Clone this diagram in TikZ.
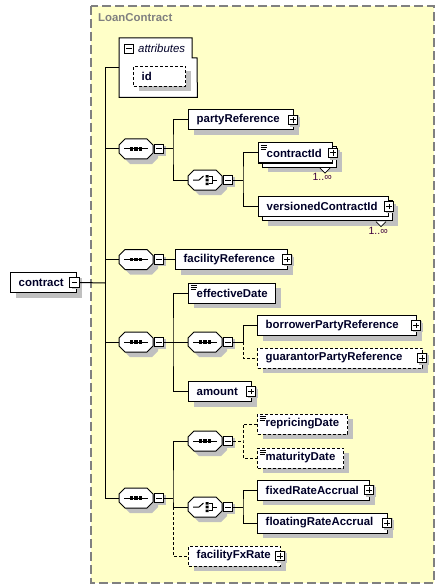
\documentclass[tikz,border=0pt]{standalone}
\usepackage{fontspec}
\setmainfont{Liberation Sans}
\usetikzlibrary{shadows}
\definecolor{grp}{RGB}{255,255,200}
\definecolor{grpline}{RGB}{128,128,128}
\definecolor{shd}{RGB}{192,192,192}
\definecolor{txt}{RGB}{0,0,40}
\definecolor{multc}{RGB}{64,0,64}
\tikzset{
 lbl/.style={font=\fontsize{11.4}{13}\selectfont\bfseries, text=txt, inner sep=0pt},
 elemplain/.style={draw=black, fill=white, line width=1pt, minimum height=20pt, inner sep=0pt},
 elembox/.style={elemplain, drop shadow={shadow xshift=5pt, shadow yshift=-5pt, fill=shd, opacity=1}},
 optbox/.style={elembox, dash pattern=on 3pt off 2pt},
 pmplain/.style={draw=black, fill=white, line width=1pt, minimum size=9.5pt, inner sep=0pt},
 pmbox/.style={pmplain, drop shadow={shadow xshift=2pt, shadow yshift=-2pt, fill=shd, opacity=1}},
 minussign/.style={path picture={\draw[line width=1pt] ([xshift=2pt]path picture bounding box.west) -- ([xshift=-2pt]path picture bounding box.east);}},
 plussign/.style={path picture={\draw[line width=1pt] ([xshift=2pt]path picture bounding box.west) -- ([xshift=-2pt]path picture bounding box.east) ([yshift=-2pt]path picture bounding box.north) -- ([yshift=2pt]path picture bounding box.south);}},
 octanchor/.style={inner sep=0pt, minimum width=34pt, minimum height=20pt},
 conn/.style={line width=1pt},
 dconn/.style={line width=1pt, dash pattern=on 3pt off 2pt},
 multlbl/.style={font=\fontsize{10.5}{12}\selectfont, text=multc, inner sep=0pt},
}
\newcommand\xelem[6]{%
 \node[#1, minimum width={#5-#3}, anchor=west] (#2) at (#3,#4) {};
 \node[lbl, anchor=west] at ([xshift=8.5pt]#2.west) {#6};}
\newcommand\melem[6]{%
 \node[elembox, minimum width={#5-#3}, anchor=west] (#2b) at (#3+4,#4+4) {};
 \draw[line width=0.8pt, fill=white] ([xshift=-17pt,yshift=-0.6pt]#2b.south east) -- ++(5pt,-5pt) -- ++(5pt,5pt);
 \node[elemplain, minimum width={#5-#3}, anchor=west] (#2) at (#3,#4) {};
 \node[lbl, anchor=west] at ([xshift=8.5pt]#2.west) {#6};
 \node[multlbl, anchor=north east] at ([xshift=-5pt,yshift=-6pt]#2b.south east) {1..∞};}
\newcommand\plusat[1]{\node[pmbox, plussign] at ([xshift=-1pt]#1.east) {};}
\newcommand\simpleicon[1]{\draw[line width=0.8pt] ([xshift=2.5pt,yshift=-2.5pt]#1.north west) -- ++(6pt,0pt) ([xshift=2.5pt,yshift=-4.5pt]#1.north west) -- ++(6pt,0pt) ([xshift=2.5pt,yshift=-6.5pt]#1.north west) -- ++(5pt,0pt);}
\newcommand\oct[3]{%
 \node[octanchor] (#1) at (#2,#3) {};
 \fill[shd] (#2+5,#3+5) +(-17,-4) -- +(-11,-10) -- +(11,-10) -- +(17,-4) -- +(17,4) -- +(11,10) -- +(-11,10) -- +(-17,4) -- cycle;
 \filldraw[fill=white, draw=black, line width=1pt] (#1.center) +(-17,-4) -- +(-11,-10) -- +(11,-10) -- +(17,-4) -- +(17,4) -- +(11,10) -- +(-11,10) -- +(-17,4) -- cycle;}
\newcommand\seqicon[1]{\draw[line width=1pt] ([xshift=-12pt]#1.center) -- ([xshift=12pt]#1.center);
 \foreach \dx in {-4.5,0,4.5} \fill ([xshift=\dx pt]#1.center) +(-1.6pt,-1.6pt) rectangle +(1.6pt,1.6pt);}
\newcommand\choiceicon[1]{\draw[line width=1pt] (#1.center) +(-12,0) -- +(-6,0) -- +(-1.5,-4);
 \fill (#1.center) +(0.5,-5) rectangle +(3.5,-2.5) +(0.5,-1.3) rectangle +(3.5,1.3) +(0.5,2.5) rectangle +(3.5,5);
 \draw[line width=1pt] (#1.center) +(3.5,-3.8) -- +(7.5,-3.8) -- +(7.5,3.8) -- +(3.5,3.8) +(7.5,0) -- +(12,0);}
\begin{document}
\begin{tikzpicture}[x=1pt,y=-1pt]
\useasboundingbox (0,0) rectangle (445,588);
% group
\draw[fill=grp, draw=grpline, line width=1.2pt, dash pattern=on 9pt off 4pt] (91,6) rectangle (434,583);
\node[lbl, text=grpline, anchor=west] (grplbl) at (98,18) {LoanContract};
% attributes
\node[inner sep=0pt, minimum width=78pt, minimum height=59pt, anchor=north west] (attr) at (119,38) {};
\draw[line width=1pt, fill=white] (attr.north west) -- ++(73,0) -- ++(0,20) -- ++(5,0) -- (attr.south east) -- (attr.south west) -- cycle;
\node[pmplain, minussign] (am) at (129,49) {};
\node[lbl, font=\fontsize{11.4}{13}\selectfont\itshape, anchor=west] at (138,48.5) {attributes};
\xelem{optbox}{id}{133}{76.5}{185}{id}
% contract
\xelem{elembox}{contract}{10}{282.5}{76}{contract}
\node[pmbox, minussign] (cm) at ([xshift=-2.5pt]contract.east) {};
% compositors
\oct{seq1}{136}{149} \seqicon{seq1}
\node[pmbox, minussign] (m1) at ([xshift=6pt]seq1.east) {};
\oct{ch1}{205}{180} \choiceicon{ch1}
\node[pmbox, minussign] (mc1) at ([xshift=6pt]ch1.east) {};
\oct{seq2}{136}{259.5} \seqicon{seq2}
\node[pmbox, minussign] (m2) at ([xshift=6pt]seq2.east) {};
\oct{seq3}{136}{342} \seqicon{seq3}
\node[pmbox, minussign] (m3) at ([xshift=6pt]seq3.east) {};
\oct{seq3b}{205}{342} \seqicon{seq3b}
\node[pmbox, minussign] (m3b) at ([xshift=6pt]seq3b.east) {};
\oct{seq4}{136}{498} \seqicon{seq4}
\node[pmbox, minussign] (m4) at ([xshift=6pt]seq4.east) {};
\oct{seq4a}{205}{441} \seqicon{seq4a}
\node[pmbox, minussign] (m4a) at ([xshift=6pt]seq4a.east) {};
\oct{ch4}{205}{507} \choiceicon{ch4}
\node[pmbox, minussign] (mc4) at ([xshift=6pt]ch4.east) {};
% elements
\xelem{elembox}{partyRef}{188}{120}{293}{partyReference} \plusat{partyRef}
\melem{}{contractId}{258}{153}{332}{contractId} \simpleicon{contractId}
\node[pmbox, plussign] at (contractId.east) {};
\melem{}{versioned}{258}{206.5}{388}{versionedContractId}
\node[pmbox, plussign] at (versioned.east) {};
\xelem{elembox}{facRef}{175}{259.5}{287}{facilityReference} \plusat{facRef}
\xelem{elembox}{effDate}{188}{293}{275}{effectiveDate} \simpleicon{effDate}
\xelem{elembox}{borrower}{257}{325.5}{416}{borrowerPartyReference} \plusat{borrower}
\xelem{optbox}{guarantor}{257}{358}{422}{guarantorPartyReference} \plusat{guarantor}
\xelem{elembox}{amount}{188}{391.5}{251}{amount} \plusat{amount}
\xelem{optbox}{repricing}{257}{424}{347}{repricingDate} \simpleicon{repricing}
\xelem{optbox}{maturity}{257}{458}{343}{maturityDate} \simpleicon{maturity}
\xelem{elembox}{fixed}{257}{490}{369}{fixedRateAccrual} \plusat{fixed}
\xelem{elembox}{floating}{257}{523}{387}{floatingRateAccrual} \plusat{floating}
\xelem{optbox}{fxRate}{188}{556}{280}{facilityFxRate} \plusat{fxRate}
% connectors
\coordinate (trunk) at (105,283);
\draw[conn] (cm.east) -- (trunk);
\draw[conn] (attr.west -| trunk) -- (seq4.west -| trunk);
\draw[conn] (attr.west) -- (attr.west -| trunk);
\foreach \s in {seq1,seq2,seq3,seq4} \draw[conn] (\s.west) -- (\s.west -| trunk);
\coordinate (j1) at (173,149);
\draw[conn] (m1.east) -- (j1);
\draw[conn] (partyRef.west) -| (j1) |- (ch1.west);
\coordinate (jc1) at (243,180);
\draw[conn] (mc1.east) -- (jc1);
\draw[conn] (contractId.west) -| (jc1) |- (versioned.west);
\draw[conn] (m2.east) -- (facRef.west);
\coordinate (j3) at (173,342);
\draw[conn] (m3.east) -- (seq3b.west);
\draw[conn] (effDate.west) -| (j3) |- (amount.west);
\coordinate (j3b) at (243,342);
\draw[conn] (m3b.east) -- (j3b);
\draw[conn] (borrower.west) -| (j3b);
\draw[dconn] (j3b) |- (guarantor.west);
\coordinate (j4) at (173,498);
\draw[conn] (m4.east) -- (j4);
\draw[conn] (seq4a.west) -| (j4) |- (ch4.west);
\draw[dconn] (j4 |- ch4.west) |- (fxRate.west);
\coordinate (j4a) at (243,441);
\draw[dconn] (m4a.east) -- (j4a);
\draw[dconn] (repricing.west) -| (j4a) |- (maturity.west);
\coordinate (j4c) at (243,507);
\draw[conn] (mc4.east) -- (j4c);
\draw[conn] (fixed.west) -| (j4c) |- (floating.west);
\end{tikzpicture}
\end{document}
